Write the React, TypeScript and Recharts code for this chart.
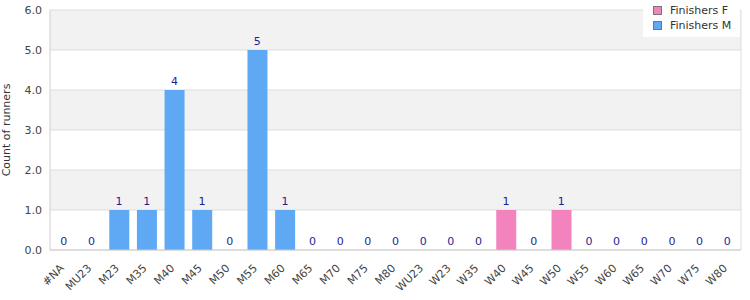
import React from 'react';
import { ComposedChart, Bar, Line, XAxis, YAxis, CartesianGrid, LabelList } from 'recharts';

const categories = ['#NA','MU23','M23','M35','M40','M45','M50','M55','M60','M65','M70','M75','M80','WU23','W23','W35','W40','W45','W50','W55','W60','W65','W70','W75','W80'];
const finishersM = [0,0,1,1,4,1,0,5,1,0,0,0,0,0,0,0,0,0,0,0,0,0,0,0,0];
const finishersF = [0,0,0,0,0,0,0,0,0,0,0,0,0,0,0,0,1,0,1,0,0,0,0,0,0];
const yTicks = [0,1,2,3,4,5,6];

const COLOR_F = '#f283bd';
const COLOR_M = '#5fa8f4';
const FONT = 'DejaVu Sans, Verdana, sans-serif';

const data = categories.map((c, i) => ({
  cat: c,
  F: finishersF[i],
  M: finishersM[i],
  total: finishersF[i] + finishersM[i],
}));

const XTick = (props: any) => {
  const { x, y, payload } = props;
  return (
    <g transform={`translate(${x - 2},${y + 8})`}>
      <text x={0} y={0} textAnchor="end" transform="rotate(-45)" fontSize={11} fill="#444" fontFamily={FONT} dy="0.35em">
        {payload.value}
      </text>
    </g>
  );
};

const LegendBox = () => (
  <div style={{ position: 'absolute', top: 0, left: 643, width: 97, background: '#fff', padding: '3px 0 4px 0', fontFamily: FONT, fontSize: 11, color: '#333', lineHeight: '15px', boxSizing: 'border-box' }}>
    {[['Finishers F', COLOR_F], ['Finishers M', COLOR_M]].map(([n, c]) => (
      <div key={n} style={{ display: 'flex', alignItems: 'center', paddingLeft: 10 }}>
        <span style={{ display: 'inline-block', width: 7, height: 7, background: c, border: '1px solid #777', marginRight: 8 }} />
        <span>{n}</span>
      </div>
    ))}
  </div>
);

export default function App() {
  return (
    <div style={{ position: 'absolute', left: 0, top: 0, width: 750, height: 300 }}>
      <ComposedChart width={750} height={300} data={data} margin={{ top: 10, right: 9, left: 0, bottom: 0 }} barSize={20}>
        <CartesianGrid
          stroke="#dddddd"
          horizontalFill={['#f2f2f2', '#ffffff']}
          verticalCoordinatesGenerator={(p: any) => [p.offset.left, p.offset.left + p.offset.width]}
        />
        <XAxis dataKey="cat" interval={0} tick={<XTick />} tickLine={false} axisLine={{ stroke: '#cccccc' }} height={50} />
        <YAxis
          domain={[0, 6]}
          ticks={yTicks}
          width={50}
          tickFormatter={(v: number) => v.toFixed(1)}
          tick={{ fontSize: 11, fill: '#444', fontFamily: FONT }}
          tickLine={false}
          axisLine={{ stroke: '#dddddd' }}
          label={{ value: 'Count of runners', angle: -90, position: 'insideLeft', offset: 0, dx: 6, style: { fontSize: 11, fill: '#333', fontFamily: FONT, textAnchor: 'middle' } }}
        />
        <Bar dataKey="F" name="Finishers F" stackId="a" fill={COLOR_F} isAnimationActive={false} />
        <Bar dataKey="M" name="Finishers M" stackId="a" fill={COLOR_M} isAnimationActive={false} />
        <Line dataKey="total" stroke="none" dot={false} activeDot={false} legendType="none" isAnimationActive={false}>
          <LabelList dataKey="total" position="top" offset={5} fill="#1f1f8f" fontSize={11} fontFamily={FONT} />
        </Line>
      </ComposedChart>
      <LegendBox />
    </div>
  );
}
